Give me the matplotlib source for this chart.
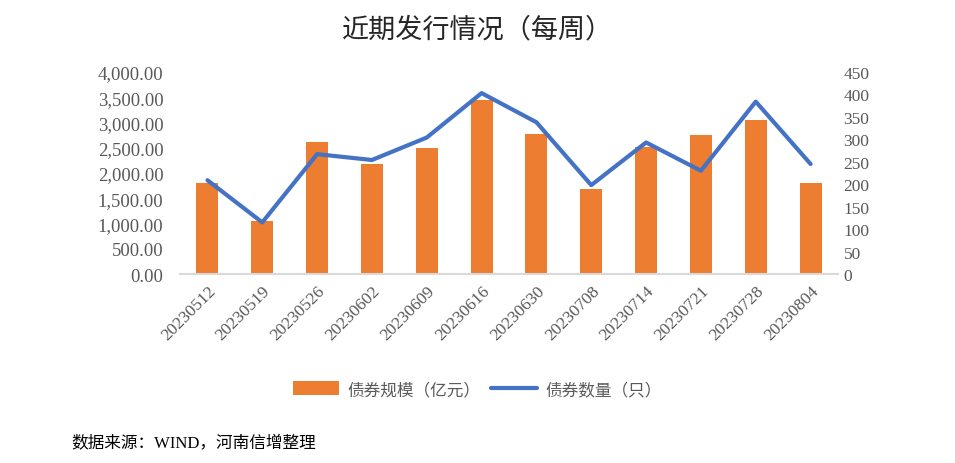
import matplotlib.pyplot as plt
import numpy as np

plt.rcParams['font.family'] = ['Liberation Serif', 'Noto Sans CJK SC']

# 数据
dates = ['20230512', '20230519', '20230526', '20230602', '20230609', '20230616',
         '20230630', '20230708', '20230714', '20230721', '20230728', '20230804']
scale = [1810, 1040, 2620, 2170, 2490, 3440, 2780, 1680, 2510, 2760, 3050, 1810]
count = [209, 115, 267, 254, 304, 403, 338, 198, 293, 230, 384, 245]

orange = '#ED7D31'
blue = '#4472C4'
gray = '#595959'

fig = plt.figure(figsize=(9.55, 4.64), dpi=100)
ax = fig.add_axes([0.1885, 0.4073, 0.689, 0.4354])
x = np.arange(len(dates))

bars = ax.bar(x, scale, width=0.4, color=orange, label='债券规模（亿元）', zorder=2)
ax.set_xlim(-0.5, len(dates) - 0.5)
ax.set_ylim(0, 4000)
ax.set_yticks(np.arange(0, 4001, 500))
ax.set_yticklabels([f'{v:,.2f}' for v in np.arange(0, 4001, 500)])
ax.set_xticks(x)
ax.set_xticklabels(dates, rotation=45, ha='right', rotation_mode='anchor')

ax2 = ax.twinx()
line, = ax2.plot(x, count, color=blue, linewidth=3, label='债券数量（只）',
                 solid_capstyle='round', zorder=3)
ax2.set_ylim(0, 450)
ax2.set_yticks(np.arange(0, 451, 50))

for a in (ax, ax2):
    for s in ('top', 'left', 'right'):
        a.spines[s].set_visible(False)
    a.tick_params(length=0, colors=gray, labelsize=12.5)
ax.tick_params(axis='y', labelsize=13.5)
ax2.spines['bottom'].set_visible(False)
ax.spines['bottom'].set_color('#d9d9d9')
ax.spines['bottom'].set_linewidth(1.5)
ax.tick_params(axis='y', pad=12)
ax.tick_params(axis='x', pad=6)
ax2.tick_params(axis='y', pad=4)

fig.text(0.5, 0.935, '近期发行情况（每周）', ha='center', va='center',
         fontsize=19.5, color='#262626')

fig.legend(handles=[bars, line], loc='center', bbox_to_anchor=(0.5, 0.158),
           ncol=2, frameon=False, fontsize=12, labelcolor=gray,
           handlelength=2.8, handleheight=0.9, columnspacing=0.6, handletextpad=0.5)

fig.text(0.075, 0.045, '数据来源：WIND，河南信增整理', ha='left', va='center',
         fontsize=12, color='black')

fig.savefig('out.png', dpi=100)
